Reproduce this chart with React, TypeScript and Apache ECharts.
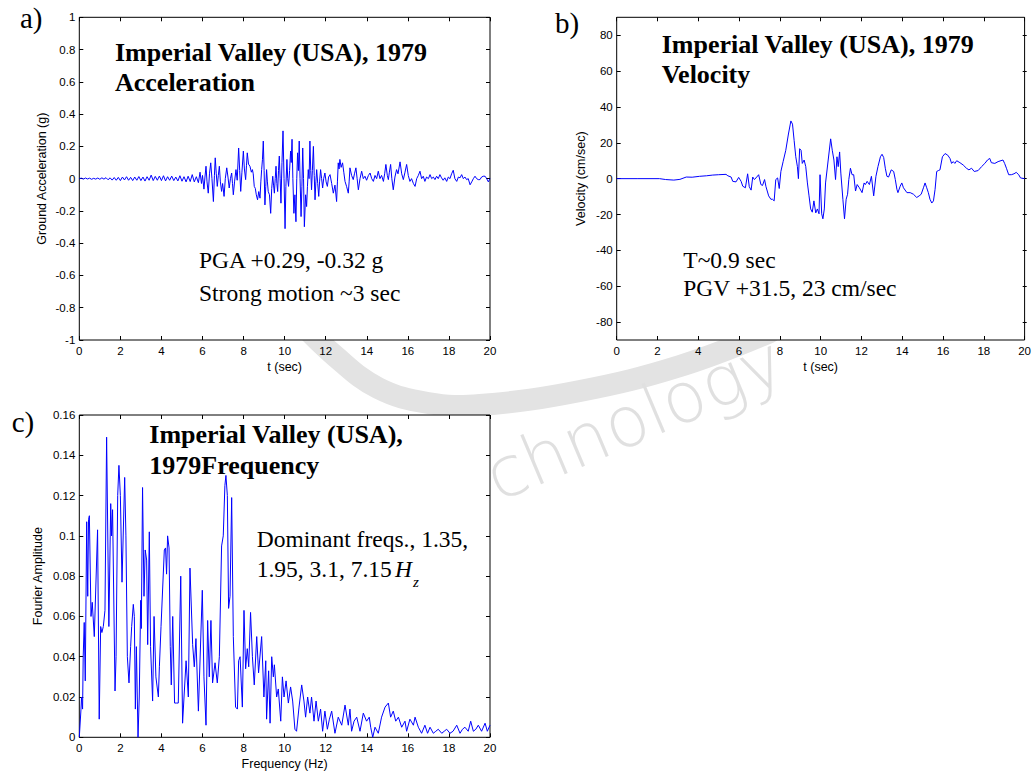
import React, { useEffect, useRef } from "react";
import * as echarts from "echarts";

// ---------------- data ----------------
const timeTicks = { min: 0, max: 20, step: 2 };
const accelTicks = { min: -1, max: 1, step: 0.2 };
const velLabelTicks = { min: -80, max: 80, step: 20 };
const velRange = { min: -90, max: 90 };
const fftTicks = { min: 0, max: 0.16, step: 0.02 };

// Ground acceleration (g) vs t (sec)
const accel: [number, number][] = [
  [0, 0], [0.1, 0.003], [0.2, -0.003], [0.3, 0.004], [0.4, -0.002], [0.5, 0.003], [0.6, -0.004], [0.7, 0.002],
  [0.8, -0.003], [0.9, 0.004], [1.0, -0.004], [1.1, 0.005], [1.2, -0.003], [1.3, 0.006], [1.4, -0.007], [1.5, 0.005],
  [1.6, -0.009], [1.7, 0.007], [1.8, -0.01], [1.9, 0.008], [2.0, -0.012], [2.1, 0.01], [2.2, -0.008], [2.3, 0.012],
  [2.4, -0.01], [2.5, 0.008], [2.6, -0.012], [2.7, 0.01], [2.8, -0.01], [2.9, 0.013], [3.0, -0.012], [3.1, 0.01],
  [3.2, -0.015], [3.3, 0.012], [3.4, -0.01], [3.5, 0.022], [3.6, -0.012], [3.7, 0.014], [3.8, -0.01], [3.9, 0.016],
  [4.0, -0.012], [4.1, 0.018], [4.2, -0.014], [4.3, 0.012], [4.4, -0.01], [4.5, 0.016], [4.6, -0.012], [4.7, 0.01],
  [4.8, -0.014], [4.9, 0.018], [5.0, -0.016], [5.1, 0.012], [5.2, -0.02], [5.3, 0.015], [5.4, -0.018], [5.5, 0.025],
  [5.6, -0.02], [5.7, 0.012], [5.8, -0.025], [5.88, 0.04], [5.95, -0.03], [6.0, 0.02], [6.07, -0.065], [6.12, 0.01],
  [6.17, 0.077], [6.22, -0.02], [6.28, -0.09], [6.34, 0.03], [6.4, 0.098], [6.46, 0.0], [6.53, -0.142], [6.58, 0.02],
  [6.62, 0.129], [6.67, 0.03], [6.72, -0.048], [6.77, 0.02], [6.82, 0.077], [6.87, -0.02], [6.93, -0.079], [6.98, -0.03],
  [7.05, -0.11], [7.11, 0.0], [7.18, 0.067], [7.24, 0.01], [7.3, -0.058], [7.36, 0.0], [7.42, 0.035], [7.46, -0.03],
  [7.5, -0.1], [7.56, -0.02], [7.63, 0.056], [7.69, -0.01], [7.76, 0.19], [7.81, 0.05], [7.86, -0.079], [7.92, 0.04],
  [7.99, 0.171], [8.04, 0.06], [8.1, -0.006], [8.14, 0.08], [8.18, 0.16], [8.24, 0.09], [8.31, 0.077], [8.38, 0.04],
  [8.43, 0.056], [8.47, 0.03], [8.52, -0.048], [8.57, -0.06], [8.62, -0.1], [8.68, -0.131], [8.74, -0.08], [8.8, -0.121],
  [8.84, -0.02], [8.88, 0.056], [8.92, 0.12], [8.96, 0.233], [9.0, 0.05], [9.04, -0.163], [9.08, -0.05], [9.12, 0.056],
  [9.16, -0.02], [9.2, -0.079], [9.26, -0.1], [9.32, -0.215], [9.37, -0.06], [9.42, 0.015], [9.46, -0.04], [9.5, -0.09],
  [9.54, 0.0], [9.58, 0.077], [9.62, -0.03], [9.66, -0.08], [9.7, 0.05], [9.74, 0.14], [9.78, 0.0], [9.82, -0.152],
  [9.87, 0.1], [9.92, 0.296], [9.97, 0.0], [10.02, -0.31], [10.06, -0.05], [10.11, 0.119], [10.15, 0.0], [10.19, -0.048],
  [10.24, 0.05], [10.29, 0.171], [10.32, 0.1], [10.36, 0.244], [10.4, 0.0], [10.45, -0.215], [10.5, -0.1], [10.55, -0.267],
  [10.59, 0.0], [10.63, 0.16], [10.67, 0.05], [10.71, 0.233], [10.75, 0.0], [10.8, -0.235], [10.84, -0.05], [10.88, 0.19],
  [10.92, 0.0], [10.96, -0.298], [11.02, -0.1], [11.07, -0.173], [11.11, -0.05], [11.15, 0.056], [11.19, 0.0], [11.23, 0.233],
  [11.27, 0.05], [11.31, -0.069], [11.35, 0.05], [11.4, 0.2], [11.44, 0.02], [11.48, -0.131], [11.52, -0.02], [11.56, 0.056],
  [11.61, -0.03], [11.66, -0.11], [11.7, -0.02], [11.75, 0.056], [11.8, 0.0], [11.85, -0.058], [11.9, 0.0], [11.96, 0.035],
  [12.02, -0.02], [12.08, -0.048], [12.14, 0.01], [12.21, 0.025], [12.29, -0.03], [12.37, -0.09], [12.45, -0.04], [12.53, -0.142],
  [12.57, -0.02], [12.61, 0.098], [12.65, 0.06], [12.69, 0.119], [12.75, 0.07], [12.82, 0.098], [12.88, 0.04], [12.94, -0.017],
  [13.02, -0.05], [13.1, -0.09], [13.14, -0.02], [13.18, 0.067], [13.26, 0.02], [13.34, -0.006], [13.4, 0.03], [13.47, 0.067],
  [13.53, 0.0], [13.59, -0.069], [13.67, 0.0], [13.75, 0.046], [13.83, 0.0], [13.91, 0.015], [13.99, -0.01], [14.08, 0.02],
  [14.16, 0.035], [14.24, 0.0], [14.32, -0.017], [14.4, 0.02], [14.48, 0.0], [14.56, 0.046], [14.64, 0.0], [14.72, 0.02],
  [14.81, -0.017], [14.87, 0.03], [14.93, 0.088], [15.0, 0.02], [15.05, -0.006], [15.1, 0.04], [15.16, 0.088], [15.22, 0.0],
  [15.29, -0.069], [15.37, 0.01], [15.45, 0.056], [15.52, 0.03], [15.62, 0.104], [15.7, 0.03], [15.78, -0.006], [15.86, 0.04],
  [15.94, 0.088], [16.02, 0.02], [16.1, -0.017], [16.18, 0.0], [16.27, -0.03], [16.35, -0.048], [16.43, 0.0], [16.51, 0.02],
  [16.59, 0.046], [16.67, 0.0], [16.75, 0.015], [16.83, -0.017], [16.91, 0.01], [17.0, 0.0], [17.08, 0.025], [17.16, 0.0],
  [17.24, 0.01], [17.32, -0.006], [17.4, 0.015], [17.48, 0.0], [17.56, 0.025], [17.64, 0.005], [17.72, -0.01], [17.8, 0.005],
  [17.89, -0.017], [17.97, 0.01], [18.05, 0.0], [18.13, 0.03], [18.21, 0.052], [18.29, 0.0], [18.38, -0.017], [18.46, 0.01],
  [18.54, 0.005], [18.62, 0.025], [18.7, 0.0], [18.78, 0.01], [18.86, -0.006], [18.94, 0.0], [19.03, -0.038], [19.11, -0.02],
  [19.19, 0.0], [19.27, 0.015], [19.35, 0.0], [19.43, -0.006], [19.51, -0.006], [19.59, 0.01], [19.67, 0.015], [19.76, 0.015],
  [19.84, 0.0], [19.92, -0.02], [20.0, 0.0],
];

// Velocity (cm/sec) vs t (sec)
const velocity: [number, number][] = [
  [0, 0], [1, 0], [2.1, 0], [2.4, -0.5], [2.8, -0.8], [3.1, -0.4], [3.41, 0.9], [3.7, 0.8], [4.06, 1.3], [4.4, 1.6],
  [4.71, 2.0], [5.0, 2.2], [5.36, 2.4], [5.45, 1.6], [5.61, 0.9], [5.69, -1.5], [5.85, -1.8], [5.98, 0.7], [6.1, -1.5],
  [6.18, -4.2], [6.31, -5.1], [6.42, 2.7], [6.5, -4.5], [6.59, -6.4], [6.67, 0.9], [6.75, -0.5], [6.83, 0.4], [6.96, 2.2],
  [7.07, -3.3], [7.15, -3.8], [7.25, -0.5], [7.32, -4.5], [7.45, -9.6], [7.56, -11.5], [7.64, -11.5], [7.72, -12.4],
  [7.8, -0.5], [7.89, 0.4], [7.97, -5.5], [8.05, 4], [8.16, 9.5], [8.29, 15.8], [8.42, 24.9], [8.54, 32.2], [8.62, 30.4],
  [8.7, 21.3], [8.78, 12.2], [8.86, 6.7], [8.91, 0], [8.97, 16.7], [9.04, 15.8], [9.1, 8.5], [9.19, 10.4], [9.27, 6.7],
  [9.35, -2.4], [9.43, -9.6], [9.51, -16.9], [9.59, -18.7], [9.67, -12.4], [9.76, -19.1], [9.84, -16.9], [9.92, -19.6],
  [9.97, 2.2], [10.05, -19.6], [10.11, -22.4], [10.18, -16.9], [10.24, -2.4], [10.37, 10.4], [10.49, 22.2], [10.57, 15.8],
  [10.65, 10.4], [10.73, -0.5], [10.8, 12.2], [10.86, 6.7], [10.93, 14.9], [10.99, 3.1], [11.09, -11.5], [11.17, -22.4],
  [11.25, -11.5], [11.32, -8.7], [11.38, -0.5], [11.46, 5.8], [11.54, 2.2], [11.62, 2.2], [11.71, -6.9], [11.79, -3.3],
  [11.9, -5.1], [12.03, -7.8], [12.13, -2.4], [12.19, -3.3], [12.28, -1.5], [12.39, -3.3], [12.49, 1.3], [12.6, -9.6],
  [12.71, 1.3], [12.81, 6.7], [12.93, 12.2], [13.01, 13.6], [13.09, 11.8], [13.17, 5.8], [13.25, 1.3], [13.33, 0.9],
  [13.46, 4.9], [13.58, 4], [13.66, -0.5], [13.74, -6], [13.79, -7.8], [13.9, -4.2], [13.98, -2.4], [14.06, -5.1],
  [14.23, -7.8], [14.39, -7.8], [14.55, -8.7], [14.71, -10.5], [14.83, -9.6], [14.93, -8.7], [15.04, -5.1], [15.12, -2.4],
  [15.2, -5.1], [15.28, -7.8], [15.36, -11.5], [15.45, -13.6], [15.53, -12.4], [15.61, -6], [15.69, 4], [15.77, 4.5],
  [15.85, 4.9], [15.97, 12.2], [16.1, 14], [16.23, 13.1], [16.34, 11.3], [16.42, 8.5], [16.5, 9.5], [16.58, 8.5],
  [16.67, 10], [16.83, 8.9], [16.99, 7.6], [17.15, 5.8], [17.27, 4.9], [17.4, 5.8], [17.53, 4], [17.72, 4.5], [17.89, 6.7],
  [18.05, 8.5], [18.18, 10.4], [18.29, 11.3], [18.37, 8.9], [18.54, 8.5], [18.7, 9.5], [18.94, 10.4], [19.02, 8.5],
  [19.11, 5.8], [19.22, 2.2], [19.35, 2.2], [19.48, 2.7], [19.59, 3.5], [19.71, 2.2], [19.8, 0.4], [20, 0],
];

// Fourier amplitude vs frequency (Hz)
const fourier: [number, number][] = [
  [0, 0], [0.08, 0.0136], [0.11, 0.02], [0.16, 0.014], [0.19, 0.04], [0.24, 0.057], [0.29, 0.028], [0.36, 0.107],
  [0.41, 0.07], [0.45, 0.108], [0.49, 0.11], [0.57, 0.06], [0.63, 0.067], [0.73, 0.05], [0.89, 0.103], [0.97, 0.009],
  [1.04, 0.055], [1.1, 0.052], [1.17, 0.055], [1.25, 0.063], [1.33, 0.149], [1.44, 0.055], [1.53, 0.116], [1.57, 0.1],
  [1.62, 0.113], [1.74, 0.023], [1.79, 0.04], [1.87, 0.12], [1.93, 0.135], [2.0, 0.12], [2.08, 0.077], [2.21, 0.129],
  [2.27, 0.1], [2.34, 0.04], [2.42, 0.027], [2.5, 0.045], [2.55, 0.055], [2.63, 0.066], [2.68, 0.06], [2.73, 0.014],
  [2.78, 0.045], [2.86, 0], [2.92, 0.02], [2.99, 0.068], [3.02, 0.054], [3.08, 0.124], [3.15, 0.07], [3.21, 0.093],
  [3.28, 0.088], [3.33, 0.046], [3.41, 0.102], [3.47, 0.045], [3.57, 0.018], [3.64, 0.06], [3.73, 0.03], [3.85, 0.02],
  [3.9, 0.035], [3.98, 0.055], [4.14, 0.093], [4.2, 0.094], [4.25, 0.081], [4.3, 0.1], [4.37, 0.094], [4.43, 0.045],
  [4.48, 0.026], [4.55, 0.06], [4.64, 0.017], [4.74, 0.017], [4.82, 0.017], [4.94, 0.08], [5.03, 0.007], [5.1, 0.02],
  [5.2, 0.038], [5.31, 0.02], [5.39, 0.084], [5.52, 0.046], [5.6, 0.035], [5.68, 0.049], [5.8, 0.013], [5.99, 0.073],
  [6.07, 0.03], [6.17, 0.006], [6.25, 0.058], [6.33, 0.03], [6.41, 0.058], [6.49, 0.027], [6.61, 0.037], [6.72, 0.027],
  [6.82, 0.04], [6.93, 0.095], [7.01, 0.1], [7.09, 0.125], [7.14, 0.13], [7.21, 0.12], [7.27, 0.064], [7.34, 0.07],
  [7.42, 0.119], [7.5, 0.05], [7.61, 0.015], [7.7, 0.014], [7.76, 0.038], [7.83, 0.04], [7.94, 0.015], [8.02, 0.063],
  [8.1, 0.034], [8.18, 0.044], [8.25, 0.035], [8.34, 0.062], [8.43, 0.04], [8.52, 0.026], [8.64, 0.05], [8.73, 0.032],
  [8.88, 0.05], [8.99, 0.02], [9.08, 0.038], [9.12, 0.009], [9.22, 0.033], [9.29, 0.007], [9.37, 0.04], [9.45, 0.03],
  [9.5, 0.036], [9.61, 0.02], [9.69, 0.024], [9.81, 0.008], [9.89, 0.03], [9.97, 0.02], [10.07, 0.028], [10.18, 0.017],
  [10.29, 0.025], [10.39, 0.018], [10.5, 0.004], [10.58, 0.003], [10.7, 0.015], [10.83, 0.026], [10.94, 0.018],
  [11.02, 0.01], [11.12, 0.02], [11.23, 0.012], [11.31, 0.02], [11.43, 0.008], [11.53, 0.018], [11.64, 0.008],
  [11.75, 0.014], [11.85, 0.003], [11.96, 0.013], [12.08, 0.004], [12.18, 0.009], [12.29, 0.013], [12.45, 0.002],
  [12.61, 0.01], [12.78, 0.006], [12.94, 0.016], [13.1, 0.006], [13.18, 0.014], [13.26, 0.003], [13.38, 0.008],
  [13.51, 0.01], [13.67, 0.003], [13.83, 0.012], [13.99, 0.008], [14.12, 0.01], [14.19, 0.005], [14.29, 0], [14.4, 0.005],
  [14.56, 0.002], [14.72, 0.01], [14.89, 0.015], [15.05, 0.017], [15.16, 0.01], [15.29, 0.013], [15.41, 0.008],
  [15.54, 0.01], [15.7, 0.005], [15.86, 0.008], [15.94, 0.003], [16.1, 0.009], [16.27, 0.006], [16.35, 0.01],
  [16.51, 0.005], [16.67, 0.002], [16.83, 0.006], [16.96, 0.002], [17.08, 0.005], [17.24, 0.002], [17.36, 0.003],
  [17.48, 0.004], [17.65, 0.002], [17.77, 0.003], [17.89, 0.004], [18.05, 0.002], [18.2, 0.003], [18.38, 0.006],
  [18.54, 0.002], [18.66, 0.004], [18.78, 0.005], [18.94, 0.003], [19.06, 0.008], [19.19, 0.003], [19.31, 0.004],
  [19.43, 0.006], [19.59, 0.003], [19.76, 0.007], [19.87, 0.003], [20, 0.006],
];

// ---------------- styling ----------------
const SANS = '"Liberation Sans", Arial, Helvetica, sans-serif';
const SERIF = '"Liberation Serif", "Times New Roman", Times, serif';
const BLUE = "#0000ff";

const tick = { show: true, inside: true, length: 4, lineStyle: { color: "#000", width: 1 } };
const label = { show: true, color: "#000", fontSize: 11.5, fontFamily: SANS, showMinLabel: true, showMaxLabel: true };
const nameStyle = { color: "#000", fontSize: 12.5, fontFamily: SANS };

function xAx(gridIndex: number, position: "bottom" | "top", showLabel: boolean, name?: string, nameGap = 20) {
  return {
    type: "value",
    gridIndex,
    position,
    min: timeTicks.min,
    max: timeTicks.max,
    interval: timeTicks.step,
    axisLine: { show: false, onZero: false },
    axisTick: tick,
    axisLabel: showLabel ? { ...label, margin: 5 } : { show: false },
    splitLine: { show: false },
    name: name || "",
    nameLocation: "middle",
    nameGap,
    nameTextStyle: nameStyle,
  };
}

function yAx(
  gridIndex: number,
  position: "left" | "right",
  r: { min: number; max: number; step: number },
  showLabel: boolean,
  name?: string,
  nameGap = 30
) {
  return {
    type: "value",
    gridIndex,
    position,
    min: r.min,
    max: r.max,
    interval: r.step,
    axisLine: { show: false, onZero: false },
    axisTick: tick,
    axisLabel: showLabel ? { ...label, margin: 4 } : { show: false },
    splitLine: { show: false },
    name: name || "",
    nameLocation: "middle",
    nameRotate: 90,
    nameGap,
    nameTextStyle: nameStyle,
  };
}

function txt(text: string, x: number, baseline: number, size: number, weight = "normal", style = "normal") {
  return {
    type: "text",
    x,
    y: baseline - 0.34 * size,
    z: 50,
    style: {
      text,
      font: `${style} ${weight} ${size}px ${SERIF}`,
      fill: "#000",
      textAlign: "left",
      textVerticalAlign: "middle",
    },
  };
}

// faint background watermark (institute logo fragments)
const WM = "#e3e3e3";
const watermark = [
  {
    type: "polyline",
    z: -5,
    silent: true,
    shape: {
      points: [[300, 322], [335, 356], [378, 388], [428, 403], [480, 405], [580, 391], [680, 366], [770, 332]],
      smooth: 0.4,
    },
    style: { stroke: WM, lineWidth: 22, fill: null, lineCap: "round" },
  },
  {
    type: "text",
    z: -5,
    silent: true,
    x: 489,
    y: 480,
    rotation: 0.4,
    style: {
      text: "chnology",
      font: '200 70px "DejaVu Sans", "Open Sans", sans-serif',
      fill: "#e0e0e0",
      textAlign: "left",
      textVerticalAlign: "middle",
    },
  },
];

const boxGrid = { show: true, borderColor: "#000", borderWidth: 1, backgroundColor: "#fff" };

const option = {
  animation: false,
  backgroundColor: "#fff",
  grid: [
    { left: 79.3, top: 17.3, width: 410.7, height: 322.7, ...boxGrid },
    { left: 616.7, top: 17.3, width: 410, height: 322.7, ...boxGrid },
    { left: 616.7, top: 17.3 + (322.7 * 10) / 180, width: 410, height: (322.7 * 160) / 180, show: false },
    { left: 79.3, top: 415, width: 410.7, height: 322.3, ...boxGrid },
  ],
  xAxis: [
    xAx(0, "bottom", true, "t (sec)", 20),
    xAx(0, "top", false),
    xAx(1, "bottom", true, "t (sec)", 20),
    xAx(1, "top", false),
    { type: "value", gridIndex: 2, show: false, min: 0, max: 20 },
    xAx(3, "bottom", true, "Frequency (Hz)", 20),
    xAx(3, "top", false),
  ],
  yAxis: [
    yAx(0, "left", accelTicks, true, "Ground Acceleration (g)", 31),
    yAx(0, "right", accelTicks, false),
    { type: "value", gridIndex: 1, show: false, min: velRange.min, max: velRange.max },
    yAx(2, "left", velLabelTicks, true, "Velocity (cm/sec)", 29),
    yAx(2, "right", velLabelTicks, false),
    yAx(3, "left", fftTicks, true, "Fourier Amplitude", 35),
    yAx(3, "right", fftTicks, false),
  ],
  series: [
    { type: "line", xAxisIndex: 0, yAxisIndex: 0, data: accel, showSymbol: false, symbol: "none", silent: true, lineStyle: { color: BLUE, width: 1 } },
    { type: "line", xAxisIndex: 2, yAxisIndex: 2, data: velocity, showSymbol: false, symbol: "none", silent: true, lineStyle: { color: BLUE, width: 1 } },
    { type: "line", xAxisIndex: 5, yAxisIndex: 5, data: fourier, showSymbol: false, symbol: "none", silent: true, lineStyle: { color: BLUE, width: 1 } },
  ],
  graphic: [
    ...watermark,
    txt("a)", 20, 28, 29),
    txt("b)", 555, 33.3, 29),
    txt("c)", 11.7, 431.7, 29),
    txt("Imperial Valley (USA), 1979", 115, 61, 26, "bold"),
    txt("Acceleration", 115, 91.7, 26, "bold"),
    txt("PGA +0.29, -0.32 g", 199, 268.3, 23.5),
    txt("Strong motion ~3 sec", 199, 301, 23.5),
    txt("Imperial Valley (USA), 1979", 661.7, 53.3, 26, "bold"),
    txt("Velocity", 661.7, 83.3, 26, "bold"),
    txt("T~0.9 sec", 683.3, 268.3, 23.5),
    txt("PGV +31.5, 23 cm/sec", 683.3, 296, 23.5),
    txt("Imperial Valley (USA),", 149.3, 443.3, 26, "bold"),
    txt("1979Frequency", 149.3, 474, 26, "bold"),
    txt("Dominant freqs., 1.35,", 256.7, 546.7, 23.5),
    txt("1.95, 3.1, 7.15", 256.7, 576.7, 23.5),
    txt("H", 395, 576.7, 23.5, "normal", "italic"),
    txt("z", 413, 587, 15, "normal", "italic"),
  ],
};

export default function App() {
  const ref = useRef<HTMLDivElement>(null);
  useEffect(() => {
    if (!ref.current) return;
    const chart = echarts.init(ref.current, null, { renderer: "svg", width: 1034, height: 773 });
    chart.setOption(option as any);
    return () => chart.dispose();
  }, []);
  return <div ref={ref} style={{ position: "absolute", left: 0, top: 0, width: 1034, height: 773 }} />;
}
